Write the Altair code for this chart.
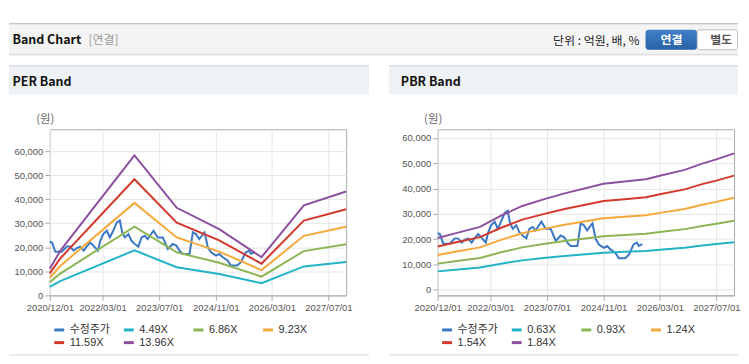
import altair as alt
import pandas as pd

FONT = "Liberation Sans, Noto Sans CJK KR, sans-serif"
KFONT = "Noto Sans CJK KR, Liberation Sans, sans-serif"

# ---------------- data ----------------
price_label = "수정주가"
price_dates = ["2020-12-01", "2020-12-20", "2021-01-18", "2021-03-15", "2021-04-28", "2021-05-25",
               "2021-06-25", "2021-07-22", "2021-08-20", "2021-09-20", "2021-10-15", "2021-11-15",
               "2021-12-12", "2022-01-20", "2022-02-10", "2022-03-07", "2022-04-07", "2022-05-03",
               "2022-06-01", "2022-07-01", "2022-07-28", "2022-08-18", "2022-09-10", "2022-10-10",
               "2022-11-06", "2022-12-04", "2023-01-04", "2023-02-01", "2023-03-01", "2023-03-25",
               "2023-05-15", "2023-06-20", "2023-08-03", "2023-09-15", "2023-10-28", "2023-11-28",
               "2023-12-25", "2024-01-22", "2024-03-20", "2024-04-18", "2024-05-15", "2024-06-12",
               "2024-07-28", "2024-08-25", "2024-09-22", "2024-11-03", "2024-12-03", "2025-01-01",
               "2025-02-12", "2025-03-12", "2025-05-06", "2025-06-06", "2025-07-18", "2025-08-15",
               "2025-09-01", "2025-10-01"]
price_values = [22300, 22000, 18200, 18200, 20300, 20300,
                18600, 19700, 20300, 18600, 20300, 22000,
                20700, 18600, 22700, 25500, 26900, 24100,
                26900, 30300, 31200, 26200, 24100, 25500,
                22700, 21400, 20300, 24100, 24800, 23400,
                26900, 24100, 24100, 19300, 21400, 20700,
                18600, 17250, 17250, 26200, 25500, 23450,
                26200, 20000, 17900, 16550, 17250, 15850,
                14500, 12400, 12400, 13800, 17900, 18600,
                17300, 18000]

per_labels = ["4.49X", "6.86X", "9.23X", "11.59X", "13.96X"]
per_dates = ["2020-12-01", "2021-03-01", "2022-12-01", "2023-12-01", "2024-12-01",
             "2025-12-01", "2026-12-01", "2027-12-01"]
per_449 = [3550, 5950, 18720, 11720, 8870, 5110, 12060, 13900]
per_686 = [5420, 9090, 28610, 17910, 13550, 7810, 18430, 21230]
per_923 = [7290, 12230, 38490, 24090, 18230, 10510, 24790, 28570]
per_1159 = [9160, 15360, 48330, 30250, 22890, 13200, 31130, 35870]
per_1396 = [11030, 18500, 58210, 36440, 27570, 15900, 37500, 43210]

pbr_labels = ["0.63X", "0.93X", "1.24X", "1.54X", "1.84X"]
pbr_dates = ["2020-12-01", "2021-05-01", "2021-12-01", "2022-06-01", "2022-12-01", "2023-06-01",
             "2023-12-01", "2024-11-01", "2025-05-01", "2025-11-01", "2026-03-01", "2026-10-01",
             "2027-03-01", "2027-07-01", "2027-12-01"]
pbr_063 = [7250, 7900, 8800, 10300, 11600, 12500, 13300, 14600, 15000, 15300, 15800, 16600, 17500, 18100, 18800]
pbr_093 = [10320, 11250, 12560, 14790, 16740, 18040, 19250, 21160, 21620, 22090, 22790, 23950, 25200, 26040, 27250]
pbr_124 = [13760, 15000, 16740, 19720, 22320, 24060, 25670, 28210, 28830, 29450, 30380, 31930, 33600, 34720, 36330]
pbr_154 = [17090, 18630, 20790, 24490, 27720, 29880, 31880, 35040, 35810, 36580, 37730, 39660, 41730, 43120, 45120]
pbr_184 = [20420, 22260, 24840, 29260, 33120, 35700, 38090, 41860, 42780, 43700, 45080, 47380, 49860, 51520, 53910]

series_colors = ["#3b78c4", "#22b3c6", "#8cb553", "#f4a93a", "#d3392c", "#8d4f9f"]
x_tick_dates = [(2020, 12), (2022, 3), (2023, 7), (2024, 11), (2026, 3), (2027, 7)]
y_ticks = [0, 10000, 20000, 30000, 40000, 50000, 60000]


def long_df(band_dates, bands, labels):
    rows = [{"date": d, "value": v, "series": price_label} for d, v in zip(price_dates, price_values)]
    for lab, vals in zip(labels, bands):
        rows += [{"date": d, "value": v, "series": lab} for d, v in zip(band_dates, vals)]
    return pd.DataFrame(rows)


per_df = long_df(per_dates, [per_449, per_686, per_923, per_1159, per_1396], per_labels)
pbr_df = long_df(pbr_dates, [pbr_063, pbr_093, pbr_124, pbr_154, pbr_184], pbr_labels)

# ---------------- layout helpers ----------------
OX, OY = 49, 128   # page position of the left plot area
PW, PH = 298, 167


def px(x):
    return x - OX


def py(y):
    return y - OY


one = pd.DataFrame({"k": [0]})


def rect(x1, y1, x2, y2, **kw):
    return alt.Chart(one).mark_rect(**kw).encode(
        x=alt.value(px(x1)), x2=alt.value(px(x2)), y=alt.value(py(y1)), y2=alt.value(py(y2)))


def text(s, x, y, **kw):
    return alt.Chart(one).mark_text(text=s, baseline="middle", **kw).encode(
        x=alt.value(px(x)), y=alt.value(py(y)))


def dt(y, m):
    return alt.DateTime(year=y, month=m, date=1, utc=True)


def panel(df, labels, ydom):
    domain = [price_label] + labels
    return alt.Chart(df).mark_line(strokeWidth=2).encode(
        x=alt.X("date:T",
                scale=alt.Scale(type="utc", domain=[dt(2020, 12), dt(2027, 12)], nice=False),
                axis=alt.Axis(values=[dt(y, m) for y, m in x_tick_dates], format="%Y/%m/%d",
                              title=None, labelOverlap=False, labelFlush=False,
                              labelFontSize=9.5, labelPadding=2)),
        y=alt.Y("value:Q", scale=alt.Scale(domain=ydom, nice=False, zero=False),
                axis=alt.Axis(values=y_ticks, format=",.0f", domain=False, labelFontSize=9.5,
                              labelPadding=2, title="(원)", titleAngle=0, titleX=-5, titleY=-10,
                              titleAlign="center", titleBaseline="middle", titleFont=KFONT,
                              titleFontSize=11.5, titleFontWeight="normal", titleColor="#666")),
        color=alt.Color("series:N", scale=alt.Scale(domain=domain, range=series_colors),
                        legend=alt.Legend(orient="none", legendX=3, legendY=195, columns=4,
                                          direction="horizontal",
                                          title=None, symbolType="stroke", symbolSize=100,
                                          symbolStrokeWidth=3, labelFont=FONT, labelFontSize=11,
                                          labelColor="#333", columnPadding=7, rowPadding=0,
                                          gridAlign="all", padding=0, labelOffset=4)),
    ).properties(width=PW, height=PH)


decor = [
    rect(8, 8, 741, 356, opacity=0),
    rect(8, 22, 741, 52, color="#f4f4f4"),
    rect(8, 21.5, 741, 22.5, color="#b4b4b4"),
    rect(8, 52, 741, 53, color="#d2d2d2"),
    rect(8, 53, 741, 54, color="#ececec"),
    text("Band Chart", 11.5, 38, font=KFONT, fontSize=12.5, fontWeight="bold", color="#111", align="left"),
    text("[연결]", 88, 38, font=KFONT, fontSize=12, color="#999", align="left"),
    text("단위 : 억원, 배, %", 642, 39, font=KFONT, fontSize=12, color="#222", align="right"),
    rect(648, 28, 700, 48, cornerRadius=3,
         color=alt.LinearGradient(gradient="linear", x1=0, y1=0, x2=0, y2=1,
                                  stops=[alt.GradientStop(offset=0, color="#3f80c8"),
                                         alt.GradientStop(offset=1, color="#2a62a6")])),
    text("연결", 674, 38, font=KFONT, fontSize=12, fontWeight="bold", color="white", align="center"),
    rect(700, 28, 740.5, 48, color="white", stroke="#bcbcbc", strokeWidth=1, cornerRadius=2),
    text("별도", 724, 38, font=KFONT, fontSize=12, fontWeight="bold", color="#555", align="center"),
    rect(8, 64, 370, 93, color="#eef1f6"),
    rect(390, 64, 741, 93, color="#eef1f6"),
    rect(8, 63.5, 370, 64.5, color="#d0d0d0"),
    rect(390, 63.5, 741, 64.5, color="#d0d0d0"),
    text("PER Band", 11.5, 80.5, font=KFONT, fontSize=12.5, fontWeight="bold", color="#111", align="left"),
    text("PBR Band", 402, 80.5, font=KFONT, fontSize=12.5, fontWeight="bold", color="#111", align="left"),
    rect(8, 354.5, 370, 355.5, color="#d5d5d5"),
    rect(390, 354.5, 741, 355.5, color="#d5d5d5"),
]

left = alt.layer(*decor, panel(per_df, per_labels, [0, 69100]))
right = panel(pbr_df, pbr_labels, [-2240, 63420])

chart = alt.hconcat(left, right, spacing=439 - OX - PW, bounds="flush", padding=0,
                    background="white").resolve_scale(
    color="independent", x="independent", y="independent"
).configure_view(stroke="#aaaaaa", strokeWidth=1).configure_axis(
    gridColor="#e6e6e6", labelFont=FONT, labelColor="#555", tickColor="#aaaaaa",
    domainColor="#aaaaaa", tickSize=5)

chart.save("out.html", embed_options={"renderer": "svg", "actions": False})
